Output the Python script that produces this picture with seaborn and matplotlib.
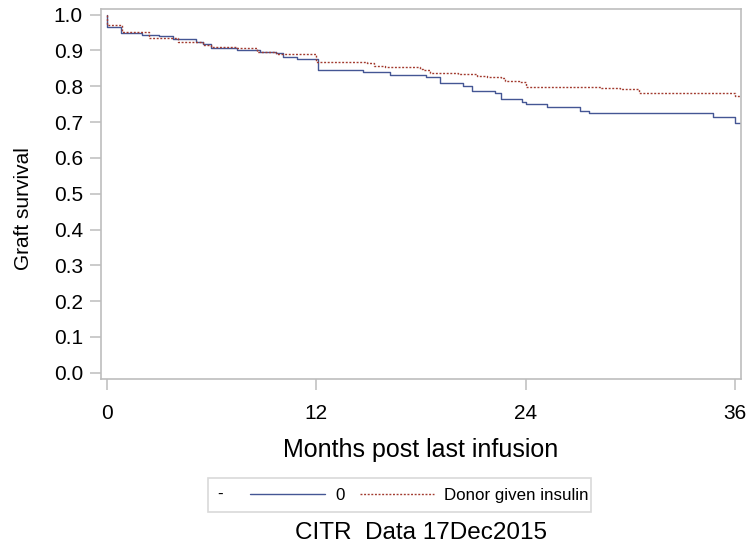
import matplotlib
matplotlib.use("Agg")
import matplotlib.pyplot as plt
from matplotlib.lines import Line2D
from matplotlib.patches import Rectangle
import numpy as np
import pandas as pd
import seaborn as sns

# ── Data ─────────────────────────────────────────────────────────────────────
GROUPS = ["0", "Donor given insulin"]

months_0 = [0, 0.02, 0.8, 2.0, 3.0, 3.8, 5.1, 5.5, 6.0, 7.45, 8.8, 9.7, 10.1,
            10.9, 12.1, 14.7, 16.2, 18.3, 19.1, 20.4, 20.9, 22.25, 22.6, 23.8,
            24.0, 25.2, 27.1, 27.6, 34.7, 36.0, 36.35]
surv_0 = [1.0, 0.966, 0.948, 0.944, 0.940, 0.931, 0.925, 0.917, 0.908, 0.901,
          0.897, 0.892, 0.883, 0.876, 0.846, 0.839, 0.832, 0.825, 0.808, 0.802,
          0.788, 0.780, 0.765, 0.757, 0.751, 0.741, 0.732, 0.725, 0.715, 0.698,
          0.698]

months_ins = [0, 0.02, 0.86, 2.4, 4.1, 5.5, 6.0, 7.4, 8.6, 9.7, 12.0, 14.9,
              15.3, 15.95, 17.95, 18.1, 18.5, 20.1, 21.2, 21.8, 22.6, 22.8,
              23.6, 24.0, 28.3, 29.4, 30.5, 36.0, 36.35]
surv_ins = [1.0, 0.970, 0.951, 0.934, 0.923, 0.915, 0.909, 0.906, 0.897, 0.890,
            0.867, 0.864, 0.858, 0.853, 0.848, 0.846, 0.836, 0.834, 0.830, 0.825,
            0.822, 0.816, 0.813, 0.797, 0.794, 0.792, 0.782, 0.773, 0.773]

X_TICKS = [0, 12, 24, 36]
Y_TICKS = [round(v / 10, 1) for v in range(0, 11)]

# ── Style ────────────────────────────────────────────────────────────────────
PALETTE = {"0": "#445694", "Donor given insulin": "#A23A2E"}
DASHES = {"0": "", "Donor given insulin": (1.4, 1.2)}
GRID_GREY = "#BDBDBD"

sns.set_theme(style="white")
plt.rcParams["font.family"] = ["Liberation Sans", "DejaVu Sans"]
plt.rcParams["text.color"] = "black"
plt.rcParams["axes.labelcolor"] = "black"

df = pd.concat([
    pd.DataFrame({"month": months_0, "surv": surv_0, "group": GROUPS[0]}),
    pd.DataFrame({"month": months_ins, "surv": surv_ins, "group": GROUPS[1]}),
], ignore_index=True)

fig = plt.figure(figsize=(7.49, 5.48), dpi=100)
ax = fig.add_axes([0.1348, 0.3093, 0.8545, 0.675])

sns.lineplot(
    data=df, x="month", y="surv", hue="group", style="group",
    hue_order=GROUPS, style_order=GROUPS,
    palette=PALETTE, dashes=DASHES,
    estimator=None, drawstyle="steps-post",
    linewidth=1.0, legend=False, ax=ax,
)

ax.set_xlim(-0.33, 36.33)
ax.set_ylim(-0.016, 1.017)
ax.set_xticks(X_TICKS)
ax.set_yticks(Y_TICKS)
ax.set_yticklabels([f"{v:.1f}" for v in Y_TICKS])

for sp in ax.spines.values():
    sp.set_color(GRID_GREY)
    sp.set_linewidth(1.2)
ax.tick_params(axis="both", which="major", direction="out", length=8,
               width=1.1, color=GRID_GREY, labelsize=15, labelcolor="black",
               left=True, bottom=True)
ax.tick_params(axis="x", pad=10)
ax.tick_params(axis="y", pad=5)

ax.set_xlabel("Months post last infusion", fontsize=18, labelpad=11)
ax.set_ylabel("Graft survival", fontsize=15)
ax.yaxis.set_label_coords(-0.106, 0.46)

# ── Legend box at the bottom ────────────────────────────────────────────────
handles = [Line2D([], [], color=PALETTE[g], lw=1.0,
                  linestyle=(0, DASHES[g]) if DASHES[g] else "-")
           for g in GROUPS]
fig.legend(handles, GROUPS, loc="center left",
           bbox_to_anchor=(0.334, 0.096), ncol=2, frameon=False,
           fontsize=12.2, handlelength=4.4, handletextpad=0.6,
           columnspacing=0.9, borderpad=0, borderaxespad=0)
fig.text(0.294, 0.097, "-", fontsize=12.2, ha="center", va="center")
fig.patches.append(Rectangle((0.278, 0.065), 0.511, 0.062,
                             transform=fig.transFigure, fill=False,
                             edgecolor="#D9D9D9", linewidth=1.2))

fig.text(0.562, 0.027, "CITR  Data 17Dec2015", fontsize=17.5,
         ha="center", va="center")

fig.savefig("out.png", dpi=100)
plt.close(fig)
